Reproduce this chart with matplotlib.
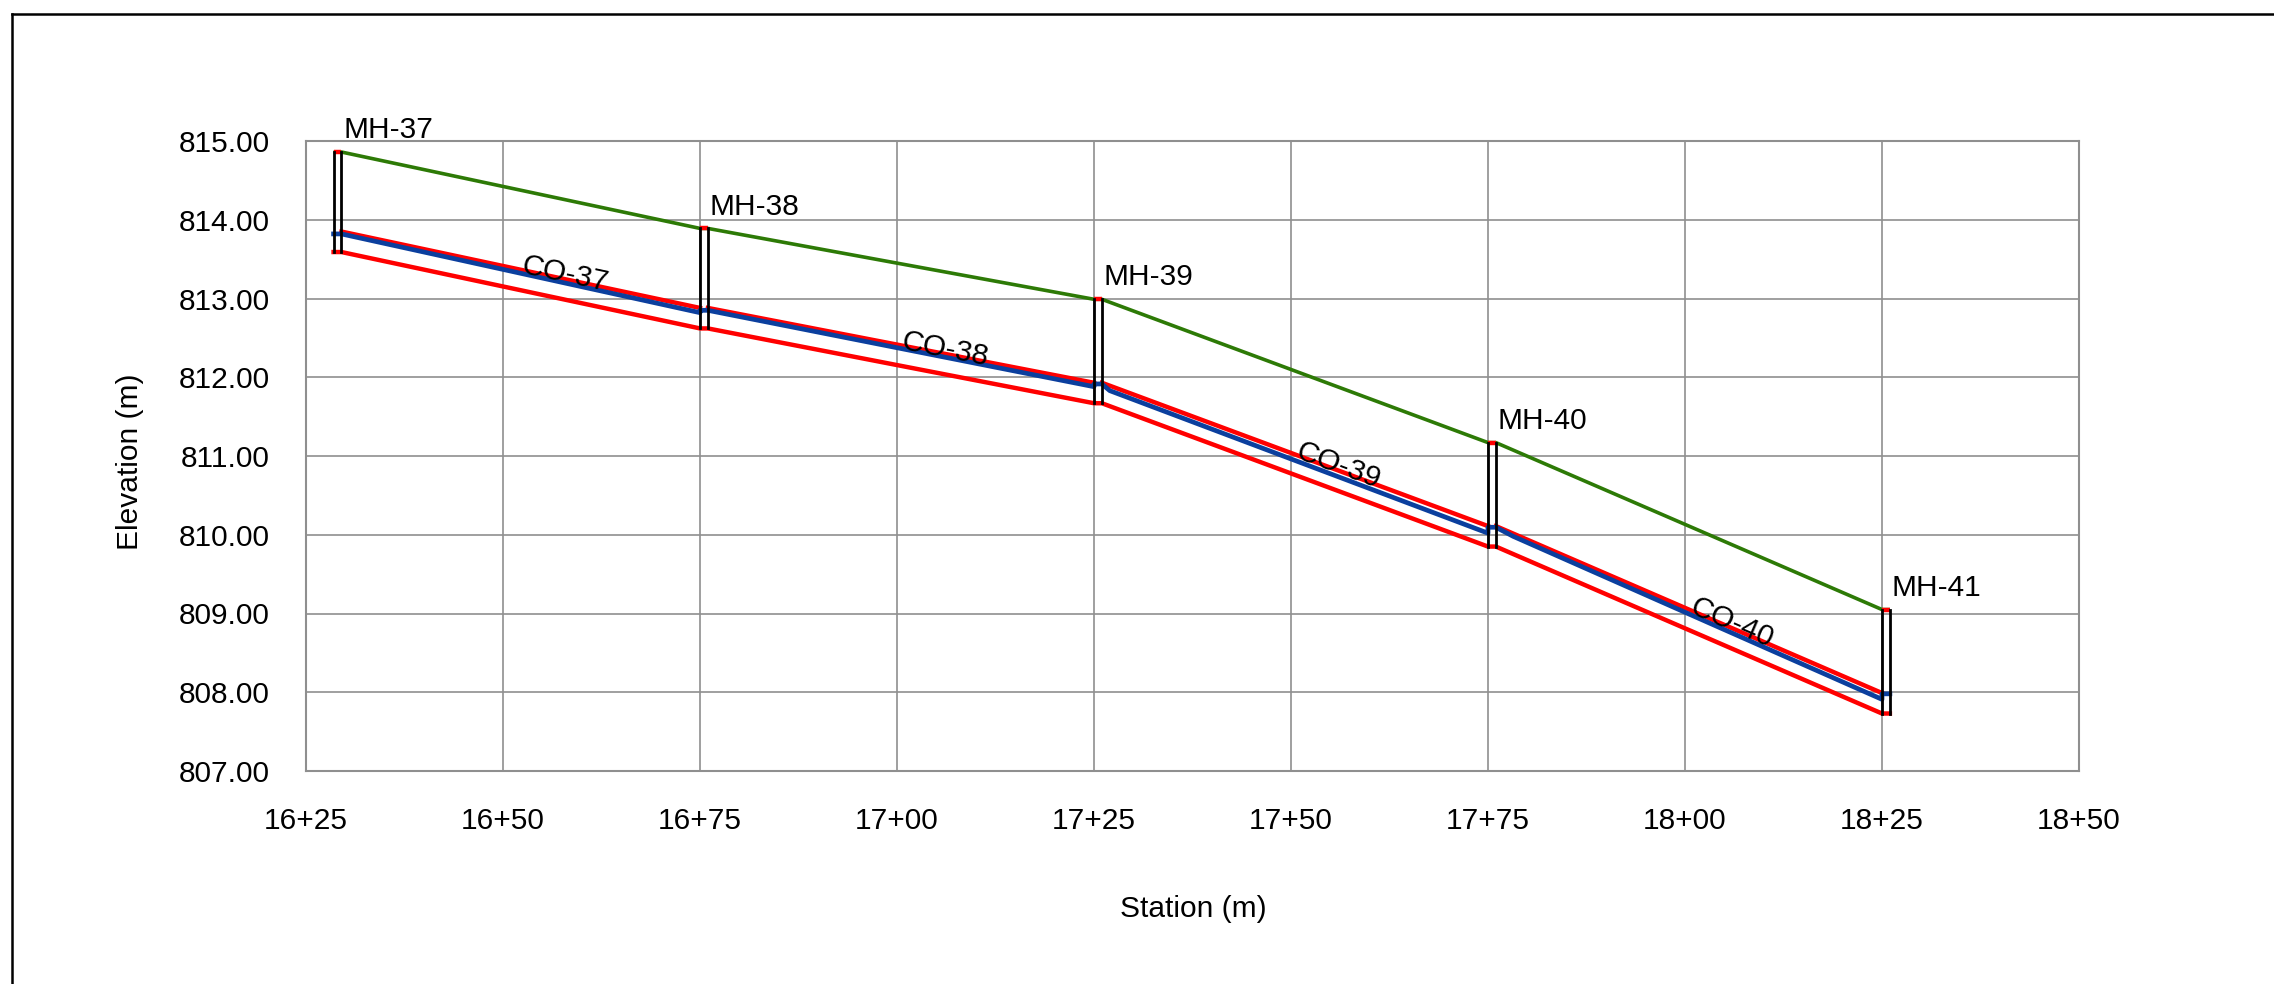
import matplotlib
matplotlib.use("Agg")
import matplotlib.pyplot as plt
import numpy as np
from matplotlib.lines import Line2D
from matplotlib.ticker import FuncFormatter

plt.rcParams['font.family'] = ['Liberation Sans', 'DejaVu Sans']

# ---------------- data ----------------
mh_names = ["MH-37", "MH-38", "MH-39", "MH-40", "MH-41"]
mh_station = [1628.5, 1675.0, 1725.0, 1775.0, 1825.0]   # left wall station
mh_width = 1.0
mh_rim = [814.86, 813.89, 812.99, 811.17, 809.05]
mh_invert = [813.59, 812.62, 811.67, 809.85, 807.73]
mh_hgl = [813.82, 812.85, 811.915, 810.095, 807.98]

pipe_names = ["CO-37", "CO-38", "CO-39", "CO-40"]
pipe_rise = [0.26, 0.26, 0.26, 0.26]
pipe_hgl_end = [812.82, 811.88, 810.02, 807.91]
pipe_hgl_kink_dx = [None, None, 1.0, 2.2]
pipe_hgl_kink = [None, None, 811.83, 809.98]

x_ticks = [1625, 1650, 1675, 1700, 1725, 1750, 1775, 1800, 1825, 1850]
y_ticks = [807, 808, 809, 810, 811, 812, 813, 814, 815]

# ---------------- figure ----------------
W, H = 2274, 984
fig = plt.figure(figsize=(W / 100, H / 100), dpi=100)
ax = fig.add_axes([306 / W, 1 - 771 / H, (2079 - 306) / W, (771 - 141) / H])

RED = "#ff0000"
BLUE = "#0b3f9e"
GREEN = "#2d7a06"
GRID = "#8f8f8f"
FS = 21.5

ax.set_xlim(x_ticks[0], x_ticks[-1])
ax.set_ylim(y_ticks[0], y_ticks[-1])
ax.set_xticks(x_ticks)
ax.set_yticks(y_ticks)
ax.xaxis.set_major_formatter(FuncFormatter(lambda v, p: f"{int(round(v)) // 100}+{int(round(v)) % 100:02d}"))
ax.yaxis.set_major_formatter(FuncFormatter(lambda v, p: f"{v:.2f}"))
ax.tick_params(length=0, pad=26, labelsize=FS)
ax.grid(True, color=GRID, lw=1.2)
ax.set_axisbelow(True)
for s in ax.spines.values():
    s.set_color(GRID)
    s.set_linewidth(1.5)

left = [s for s in mh_station]
right = [s + mh_width for s in mh_station]

# ground line
gx, gy = [], []
for l, r, z in zip(left, right, mh_rim):
    gx += [l, r]
    gy += [z, z]
ax.plot(gx, gy, color=GREEN, lw=2.6, solid_capstyle='butt', zorder=3)

# pipe inverts (continuous through manholes)
bx, by = [], []
for l, r, z in zip(left, right, mh_invert):
    bx += [l, r]
    by += [z, z]
ax.plot(bx, by, color=RED, lw=3.2, zorder=4)

# pipe crowns
for i in range(len(pipe_names)):
    x0, x1 = right[i], left[i + 1]
    ax.plot([x0, x1], [mh_invert[i] + pipe_rise[i], mh_invert[i + 1] + pipe_rise[i]],
            color=RED, lw=3.2, zorder=4)

# rim caps
for l, r, z in zip(left, right, mh_rim):
    ax.plot([l, r], [z, z], color=RED, lw=3.2, zorder=5, solid_capstyle='butt')

# hydraulic grade line
hx, hy = [], []
for i in range(len(mh_names)):
    hx += [left[i], right[i]]
    hy += [mh_hgl[i], mh_hgl[i]]
    if i < len(pipe_names):
        if pipe_hgl_kink_dx[i] is not None:
            hx.append(right[i] + pipe_hgl_kink_dx[i])
            hy.append(pipe_hgl_kink[i])
        hx.append(left[i + 1])
        hy.append(pipe_hgl_end[i])
ax.plot(hx, hy, color=BLUE, lw=3.4, zorder=6)

# manhole walls
for l, r, zb, zt in zip(left, right, mh_invert, mh_rim):
    ax.plot([l, l], [zb, zt], color="black", lw=2.0, zorder=7)
    ax.plot([r, r], [zb, zt], color="black", lw=2.0, zorder=7)

# manhole labels
for name, r, z in zip(mh_names, right, mh_rim):
    ax.annotate(name, (r, z), xytext=(1.5, 10), textcoords='offset points',
                ha='left', va='baseline', fontsize=FS, zorder=8, annotation_clip=False)

# pipe labels
for i, name in enumerate(pipe_names):
    x0, x1 = right[i], left[i + 1]
    y0 = mh_invert[i] + pipe_rise[i]
    y1 = mh_invert[i + 1] + pipe_rise[i]
    p0 = ax.transData.transform((x0, y0))
    p1 = ax.transData.transform((x1, y1))
    ang = np.degrees(np.arctan2(p1[1] - p0[1], p1[0] - p0[0]))
    xm = 0.5 * (x0 + x1)
    ym = y0 + (y1 - y0) * (xm - x0) / (x1 - x0) - 0.04
    ax.text(xm, ym, name, rotation=ang, rotation_mode='anchor', ha='left',
            va='baseline', fontsize=FS, zorder=8)

# axis titles
fig.text(1193 / W, 1 - 909 / H, "Station (m)", ha='center', va='center', fontsize=FS)
fig.text(130 / W, 1 - 462 / H, "Elevation (m)", ha='center', va='center', fontsize=FS,
         rotation=90)

# outer frame (left and top edges visible)
fig.add_artist(Line2D([12 / W, 12 / W], [0, 1 - 14 / H], transform=fig.transFigure,
                      color='black', lw=1.8))
fig.add_artist(Line2D([12 / W, 1.0], [1 - 14 / H, 1 - 14 / H], transform=fig.transFigure,
                      color='black', lw=1.8))

fig.savefig("out.png", dpi=100)
